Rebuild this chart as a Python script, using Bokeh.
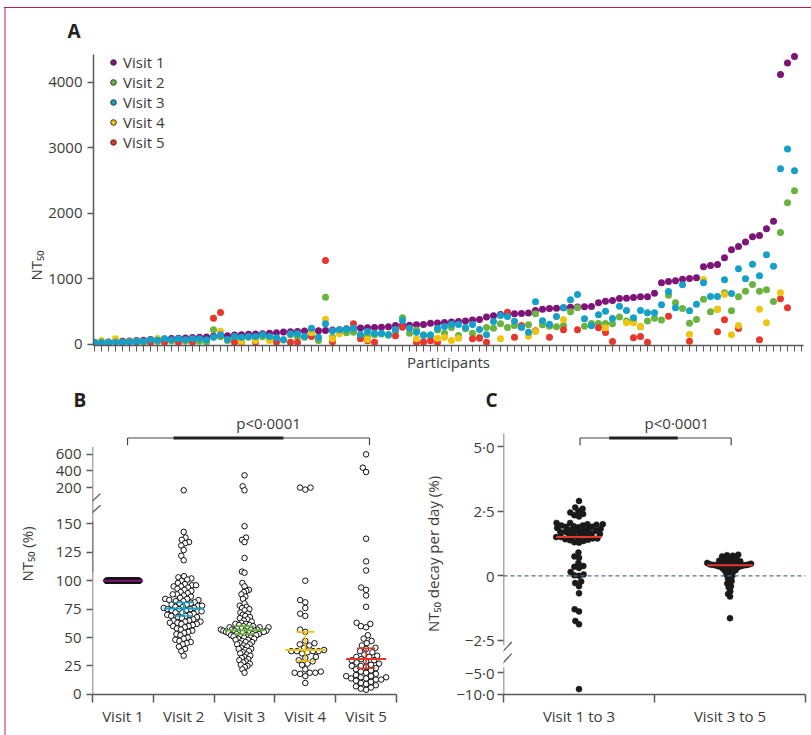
import numpy as np
from bokeh.plotting import figure
from bokeh.layouts import column, row
from bokeh.models import FixedTicker, Legend, LegendItem, Label, Range1d, Span, Arrow, Title
from bokeh.embed import file_html
from bokeh.resources import INLINE

FONT = "Open Sans"
TXT = "#3b3b3b"
AXC = "#5a5a5a"

VISIT_LABELS = ["Visit 1", "Visit 2", "Visit 3", "Visit 4", "Visit 5"]
VISIT_COLORS = ["#7f1478", "#6ab33f", "#14a0c8", "#efc50f", "#e8362c"]
B_COLORS = ["#7f1478", "#14a0c8", "#6ab33f", "#efc50f", "#e8362c"]

# ---------------- Panel A data (NT50 per participant, 101 participants) ----------------
N_PART = 101
A_VISIT1 = [30, 35, 40, 45, 50, 55, 60, 65, 75, 80,
            85, 90, 95, 100, 105, 110, 115, 125, 130, 135,
            145, 150, 155, 160, 165, 170, 180, 190, 195, 200,
            205, 210, 210, 215, 220, 225, 240, 245, 250, 255,
            260, 265, 270, 290, 295, 295, 300, 305, 325, 330,
            335, 345, 350, 360, 375, 380, 420, 440, 458, 468,
            470, 475, 480, 519, 539, 550, 555, 560, 570, 572,
            575, 580, 636, 662, 672, 702, 708, 718, 728, 730,
            784, 942, 962, 975, 997, 1008, 1018, 1186, 1206, 1222,
            1323, 1446, 1496, 1563, 1645, 1664, 1767, 1883, 4123, 4296,
            4398]
A_VISIT2 = [25, 30, 30, 40, 35, 45, 55, 40, 50, 45,
            60, 55, 70, 50, 45, 50, 40, 224, 120, 60,
            90, 100, 110, 100, 120, 110, 95, 70, 150, 120,
            112, 200, 61, 722, 112, 190, 180, 188, 130, 137,
            150, 160, 140, 200, 407, 173, 220, 150, 130, 220,
            173, 260, 137, 240, 173, 112, 260, 249, 316, 260,
            290, 265, 300, 468, 300, 280, 270, 290, 500, 560,
            280, 320, 320, 320, 315, 420, 360, 350, 270, 360,
            400, 375, 753, 637, 550, 326, 382, 692, 499, 540,
            789, 515, 728, 814, 916, 814, 835, 657, 1710, 2164,
            2347]
A_VISIT3 = [35, 35, 35, 35, 35, 35, 46, 50, 72, 66,
            87, 72, 87, 72, 87, 87, 72, 112, 148, 76,
            122, 112, 122, 122, 148, 122, 102, 72, 163, 163,
            127, 249, 112, 316, 209, 224, 234, 249, 153, 198,
            173, 173, 153, 229, 366, 249, 188, 137, 148, 249,
            275, 310, 305, 260, 305, 229, 148, 351, 443, 428,
            356, 265, 188, 652, 361, 310, 428, 560, 682, 764,
            392, 285, 453, 509, 397, 585, 519, 407, 519, 484,
            484, 606, 809, 560, 912, 515, 616, 942, 733, 733,
            987, 779, 1156, 1003, 1226, 1049, 1370, 1196, 2683, 2983,
            2652]
A_VISIT4 = [None, 61, None, 87, None, None, None, None, None, 90,
            None, None, None, None, None, None, None, None, 203, None,
            None, 45, None, 60, None, 60, None, None, None, None,
            None, 178, None, 386, 87, 163, None, None, None, 76,
            None, None, None, None, None, None, 87, None, None, 97,
            112, 61, 97, None, None, None, None, None, 87, None,
            None, None, 127, 198, None, None, None, 382, None, None,
            None, None, None, 255, None, None, 331, 331, 275, None,
            None, None, None, None, None, 157, None, 993, None, 539,
            764, 148, 290, None, None, 539, 331, None, 789, None,
            None]
A_VISIT5 = [None, None, 30, None, 30, None, 30, None, 30, None,
            35, None, 30, None, 40, None, None, 402, 489, None,
            35, 40, None, 35, None, None, 40, None, 35, 35,
            None, 122, None, 1283, 41, None, None, 316, 87, 56,
            35, None, None, 133, 265, None, 35, 40, 56, 35,
            None, None, None, None, 87, 97, 35, None, None, 494,
            112, 290, None, 209, None, 112, None, 224, None, 224,
            None, None, 255, 183, 46, None, None, 102, 122, 35,
            None, None, 432, None, None, 50, None, None, None, 194,
            377, None, 244, None, None, 72, None, None, 698, 560,
            None]
A_SERIES = [A_VISIT1, A_VISIT2, A_VISIT3, A_VISIT4, A_VISIT5]
A_YTICKS = [0, 1000, 2000, 3000, 4000]

# ---------------- Panel B data (NT50 as % of visit 1) ----------------
B_VISIT1 = [100] * 101
B_VISIT2 = [168, 143, 138, 136, 134, 133, 131, 127, 122, 118, 104, 103, 102, 101, 100, 98, 97, 96, 96, 95,
            95, 94, 93, 92, 91, 90, 89, 88, 88, 87, 86, 85, 84, 84, 83, 83, 82, 82, 81, 80,
            80, 79, 79, 78, 78, 77, 77, 76, 76, 75, 75, 75, 74, 74, 73, 73, 72, 72, 71, 70,
            70, 69, 69, 68, 68, 67, 66, 65, 65, 64, 64, 63, 63, 62, 62, 61, 60, 60, 59, 58,
            57, 56, 55, 54, 53, 52, 50, 49, 48, 47, 46, 45, 44, 42, 40, 38, 34]
B_VISIT3 = [348, 216, 168, 148, 138, 136, 134, 120, 108, 107, 98, 95, 92, 91, 90, 88, 86, 84, 80, 78,
            77, 76, 75, 74, 72, 71, 70, 69, 68, 67, 66, 65, 64, 63, 62, 62, 61, 61, 60, 60,
            59, 59, 59, 58, 58, 58, 57, 57, 57, 57, 56, 56, 56, 56, 56, 55, 55, 55, 55, 54,
            54, 54, 53, 53, 53, 52, 52, 52, 51, 51, 50, 50, 49, 49, 48, 48, 47, 46, 46, 45,
            44, 44, 43, 42, 41, 40, 40, 39, 38, 37, 36, 35, 34, 33, 32, 31, 30, 29, 28, 27,
            26, 25, 24, 22, 19]
B_VISIT4 = [200, 176, 200, 100, 83, 81, 76, 71, 69, 57, 55, 47, 45, 44, 43, 41, 39, 38, 38, 38,
            38, 37, 36, 33, 32, 30, 29, 27, 26, 22, 20, 19, 19, 19, 18, 16, 10]
B_VISIT5 = [600, 440, 387, 137, 117, 109, 94, 92, 87, 77, 63, 62, 60, 59, 52, 49, 47, 45, 43, 41,
            40, 38, 37, 35, 34, 33, 33, 31, 30, 30, 29, 28, 27, 26, 25, 25, 24, 23, 22, 21,
            20, 19, 18, 17, 16, 16, 15, 15, 14, 14, 13, 13, 12, 11, 10, 9, 8, 7, 6, 5, 4]
B_SERIES = [B_VISIT1, B_VISIT2, B_VISIT3, B_VISIT4, B_VISIT5]
B_MEDIAN = [100, 75.5, 56.5, 39, 31]
B_Q1 = [None, 69, 53, 29.4, 23]
B_Q3 = [None, 80.8, 60, 55, 40.6]
B_LOWER_TICKS = [0, 25, 50, 75, 100, 125, 150]
B_UPPER_TICKS = [200, 400, 600]

# ---------------- Panel C data (NT50 decay per day, %) ----------------
C_V1_TO_3 = [2.9, 2.65, 2.6, 2.5, 2.45, 2.4, 2.35, 2.3, 2.05, 2.05, 2.0, 2.0, 1.98, 1.95, 1.95, 1.92,
             1.9, 1.9, 1.88, 1.85, 1.82, 1.8, 1.78, 1.75, 1.75, 1.72, 1.7, 1.7, 1.68, 1.65, 1.62, 1.6,
             1.58, 1.55, 1.52, 1.5, 1.5, 1.48, 1.45, 1.45, 1.42, 1.4, 1.38, 1.35, 1.3, 1.28, 0.9, 0.75,
             0.7, 0.5, 0.38, 0.35, 0.3, 0.15, 0.05, 0.02, 0.0, -0.22, -0.28, -0.4, -0.68, -1.3, -1.38,
             -1.75, -1.88, -8.8]
C_V3_TO_5 = [0.82, 0.8, 0.78, 0.75, 0.72, 0.7, 0.68, 0.65, 0.62, 0.6, 0.58, 0.56, 0.55, 0.54, 0.52,
             0.5, 0.5, 0.48, 0.47, 0.46, 0.45, 0.45, 0.44, 0.43, 0.42, 0.42, 0.41, 0.4, 0.4, 0.39,
             0.38, 0.37, 0.36, 0.35, 0.34, 0.32, 0.3, 0.28, 0.25, 0.22, 0.2, 0.18, 0.15, 0.1, 0.05,
             0.0, -0.05, -0.1, -0.2, -0.25, -0.3, -0.4, -0.45, -0.6, -0.7, -0.8, -1.64]
C_SERIES = [C_V1_TO_3, C_V3_TO_5]
C_LABELS = ["Visit 1 to 3", "Visit 3 to 5"]
C_MEDIAN = [1.5, 0.41]
C_TICKS = [5.0, 2.5, 0.0, -2.5, -5.0, -10.0]
C_TICK_TEXT = ["5\u00b70", "2\u00b75", "0", "\u22122\u00b75", "\u22125\u00b70", "\u221210\u00b70"]

# ---------------- broken-axis transforms ----------------
B_UNIT = 1.136          # px per % on the lower part of panel B


def fB(v):
    v = np.asarray(v, dtype=float)
    upper = (206.7 + (v - 200.0) * 0.08325) / B_UNIT
    return np.where(v <= 160, v, upper)


C_UNIT = 25.8           # px per %/day on the upper part of panel C


def fC(v):
    v = np.asarray(v, dtype=float)
    lower = (-96.8 + (v + 5.0) * 4.34) / C_UNIT
    return np.where(v >= -3.0, v, lower)


def swarm(ypx, d):
    ypx = np.asarray(ypx, dtype=float)
    order = np.argsort(ypx, kind="stable")
    px, py = [], []
    out = np.zeros(len(ypx))
    for idx in order:
        y = ypx[idx]
        cands = [0.0]
        for qx, qy in zip(px, py):
            dy = abs(qy - y)
            if dy < d:
                dx = np.sqrt(d * d - dy * dy)
                cands += [qx + dx, qx - dx]
        cands.sort(key=lambda c: (abs(c), c))
        chosen = 0.0
        for c in cands:
            if all((c - qx) ** 2 + (y - qy) ** 2 >= d * d - 1e-6 for qx, qy in zip(px, py)):
                chosen = c
                break
        out[idx] = chosen
        px.append(chosen)
        py.append(y)
    return out


def capped_swarm(ypx, d, half):
    off = swarm(ypx, d)
    m = np.abs(off).max()
    if m > half:
        off = off * half / m
    return off


def base_fig(w, h, xr, yr, ml, mr, mt, mb):
    p = figure(width=w, height=h, x_range=xr, y_range=yr, output_backend="svg",
               toolbar_location=None, min_border_left=ml, min_border_right=mr,
               min_border_top=mt, min_border_bottom=mb)
    p.grid.visible = False
    p.outline_line_color = None
    p.background_fill_color = None
    p.border_fill_color = None
    return p


def style_axis(ax):
    ax.axis_line_color = AXC
    ax.axis_line_width = 1.5
    ax.major_tick_line_color = AXC
    ax.major_tick_line_width = 1.5
    ax.major_tick_in = 0
    ax.major_tick_out = 6
    ax.minor_tick_line_color = None
    ax.major_label_text_font = FONT
    ax.major_label_text_font_size = "15px"
    ax.major_label_text_color = TXT
    ax.axis_label_text_font = FONT
    ax.axis_label_text_font_size = "15px"
    ax.axis_label_text_font_style = "normal"
    ax.axis_label_text_color = TXT


def style_title(p, text, offset, standoff):
    p.title.text = text
    p.title.align = "left"
    p.title.offset = offset
    p.title.standoff = standoff
    p.title.text_font = FONT
    p.title.text_font_size = "19px"
    p.title.text_font_style = "bold"
    p.title.text_color = "#222222"


# ================= Panel A =================
A_PX = 0.0655   # px per NT50 unit
A_BOTTOM = -1 / A_PX
pA = base_fig(811, 375, Range1d(-1 / 7, 101.286), Range1d(A_BOTTOM, 4519), 93, 8, 48, 30)
xs = np.arange(N_PART)
for k in [0, 1, 4, 3, 2]:
    pA.scatter(xs, np.array(A_SERIES[k], dtype=float), size=7, fill_color=VISIT_COLORS[k],
               line_color=None)
items = []
for k in range(5):
    d = pA.scatter([np.nan], [np.nan], size=9.5, fill_color=VISIT_COLORS[k], line_color="#333333",
                   line_width=1)
    items.append(LegendItem(label=VISIT_LABELS[k], renderers=[d]))
leg = Legend(items=items, location=(13, 193), margin=0, padding=5, spacing=0, glyph_width=14,
             glyph_height=18, label_height=18, label_standoff=3, border_line_color=None,
             background_fill_alpha=0, label_text_font=FONT, label_text_font_size="15px",
             label_text_color=TXT)
pA.add_layout(leg)
style_axis(pA.xaxis[0])
style_axis(pA.yaxis[0])
pA.xaxis.ticker = FixedTicker(ticks=list(range(N_PART + 1)), minor_ticks=[])
pA.xaxis.major_label_overrides = {i: "" for i in range(N_PART + 1)}
pA.xaxis.major_label_standoff = 0
pA.xaxis.major_tick_line_width = 1
pA.xaxis.axis_label = "Participants"
pA.xaxis.axis_label_standoff = 0
pA.yaxis.ticker = FixedTicker(ticks=A_YTICKS, minor_ticks=[])
pA.yaxis.bounds = (A_BOTTOM, 4420)
pA.yaxis.major_label_standoff = 5
# y-axis title of panel A, which sits low on the axis
pA.add_layout(Title(text="NT\u2085\u2080", align="left", offset=65, standoff=0,
                    text_font=FONT, text_font_size="15px", text_font_style="normal",
                    text_color=TXT), "left")
style_title(pA, "A", -26, 10)

# ================= Panel B =================
pB = base_fig(420, 360, Range1d(0, 5), Range1d(-0.15, 247.2), 92, 24, 38, 41)
B_HALF = [16.5, 20, 24, 21, 20]
for k, vals in enumerate(B_SERIES):
    yv = fB(vals)
    off = capped_swarm(yv * B_UNIT, 5.6, B_HALF[k])
    pB.scatter(k + 0.5 + off / 60.8, yv, size=5.5, fill_color=None if k == 0 else "white",
               line_color="#111111", line_width=1)
for k in range(5):
    c = k + 0.5
    col = B_COLORS[k]
    pB.segment(x0=[c - 0.33], y0=[B_MEDIAN[k]], x1=[c + 0.33], y1=[B_MEDIAN[k]],
               line_color=col, line_width=2)
    if B_Q1[k] is not None:
        pB.segment(x0=[c, c - 0.15, c - 0.15], y0=[B_Q1[k], B_Q1[k], B_Q3[k]],
                   x1=[c, c + 0.15, c + 0.15], y1=[B_Q3[k], B_Q1[k], B_Q3[k]],
                   line_color=col, line_width=1.6)
style_axis(pB.xaxis[0])
style_axis(pB.yaxis[0])
pB.xaxis.ticker = FixedTicker(ticks=[0.5, 1.5, 2.5, 3.5, 4.5], minor_ticks=[0, 1, 2, 3, 4, 5])
pB.xaxis.major_label_overrides = {k + 0.5: VISIT_LABELS[k] for k in range(5)}
pB.xaxis.major_tick_line_color = None
pB.xaxis.major_tick_out = 8
pB.xaxis.minor_tick_line_color = AXC
pB.xaxis.minor_tick_line_width = 1.5
pB.xaxis.minor_tick_in = 0
pB.xaxis.minor_tick_out = 8
pB.xaxis.major_label_standoff = 3
b_up_pos = [round(float(fB(v)), 4) for v in B_UPPER_TICKS]
pB.yaxis.ticker = FixedTicker(ticks=B_LOWER_TICKS + b_up_pos, minor_ticks=[])
pB.yaxis.major_label_overrides = {p_: str(v) for p_, v in zip(b_up_pos, B_UPPER_TICKS)}
pB.yaxis.axis_line_color = None
pB.yaxis.major_label_standoff = 5
pB.yaxis.axis_label = "NT\u2085\u2080 (%)"
pB.yaxis.axis_label_standoff = 16
for (a, b) in [(0, 152.5), (108, 688)]:
    pB.add_layout(Arrow(end=None, x_start=0, y_start=float(fB(a)), x_end=0, y_end=float(fB(b)),
                        line_color=AXC, line_width=1.5))
for (x0, y0, x1, y1) in [(83.3, 508.3, 100, 493.3), (83.3, 520, 100, 505)]:
    pB.add_layout(Arrow(end=None, x_start=(x0 - 92) / 60.8, y_start=(694 - y0) / B_UNIT,
                        x_end=(x1 - 92) / 60.8, y_end=(694 - y1) / B_UNIT,
                        line_color=AXC, line_width=1.3))
bx0, bx1, by, byt = 0.576, 4.556, (694 - 437.7) / B_UNIT, (694 - 445) / B_UNIT
pB.segment(x0=[bx0, bx0, bx1], y0=[by, by, by], x1=[bx1, bx0, bx1], y1=[by, byt, byt],
           line_color="#444444", line_width=1.2)
pB.segment(x0=[1.332], y0=[by], x1=[3.141], y1=[by], line_color="#222222", line_width=3)
pB.add_layout(Label(x=2.895, y=(694 - 423) / B_UNIT, text="p<0\u00b70001", text_font=FONT,
                    text_font_size="15px", text_color=TXT, text_align="center",
                    text_baseline="middle"))
style_title(pB, "B", -19, 1)

# ================= Panel C =================
pC = base_fig(391, 360, Range1d(0, 2), Range1d(-4.6, 6.291), 80, 6, 38, 41)
pC.add_layout(Span(location=0, dimension="width", line_color="#4f7382", line_width=1.2,
                   line_dash="4 3"))
C_HALF = [24, 23]
for k, vals in enumerate(C_SERIES):
    yv = fC(vals)
    off = capped_swarm(yv * C_UNIT, 5.2, C_HALF[k])
    pC.scatter(k + 0.5 + off / 152.5, yv, size=6, fill_color="#1a1a1a", line_color="#1a1a1a",
               line_width=0.5)
for k in range(2):
    c = k + 0.5
    pC.segment(x0=[c - 0.151], y0=[C_MEDIAN[k]], x1=[c + 0.151], y1=[C_MEDIAN[k]],
               line_color="#e8362c", line_width=2)
style_axis(pC.xaxis[0])
style_axis(pC.yaxis[0])
pC.xaxis.ticker = FixedTicker(ticks=[0.5, 1.5], minor_ticks=[0, 1, 2])
pC.xaxis.major_label_overrides = {0.5: C_LABELS[0], 1.5: C_LABELS[1]}
pC.xaxis.major_tick_line_color = None
pC.xaxis.major_tick_out = 8
pC.xaxis.minor_tick_line_color = AXC
pC.xaxis.minor_tick_line_width = 1.5
pC.xaxis.minor_tick_in = 0
pC.xaxis.minor_tick_out = 8
pC.xaxis.major_label_standoff = 3
c_pos = [round(float(fC(v)), 4) for v in C_TICKS]
pC.yaxis.ticker = FixedTicker(ticks=c_pos, minor_ticks=[])
pC.yaxis.major_label_overrides = {p_: t for p_, t in zip(c_pos, C_TICK_TEXT)}
pC.yaxis.axis_line_color = None
pC.yaxis.major_label_standoff = 3
pC.yaxis.axis_label = "NT\u2085\u2080 decay per day (%)"
pC.yaxis.axis_label_standoff = 10
for (a, b) in [(-10, -3.78), (-2.69, 5.52)]:
    pC.add_layout(Arrow(end=None, x_start=0, y_start=float(fC(a)), x_end=0, y_end=float(fC(b)),
                        line_color=AXC, line_width=1.5))
for (x0, y0, x1, y1) in [(492.7, 658.3, 508.3, 641.7), (492.7, 670, 508.3, 653.3)]:
    pC.add_layout(Arrow(end=None, x_start=(x0 - 500) / 152.5, y_start=(575.5 - y0) / C_UNIT,
                        x_end=(x1 - 500) / 152.5, y_end=(575.5 - y1) / C_UNIT,
                        line_color=AXC, line_width=1.3))
cx0, cx1, cy, cyt = 0.507, 1.508, (575.5 - 437.7) / C_UNIT, (575.5 - 445) / C_UNIT
pC.segment(x0=[cx0, cx0, cx1], y0=[cy, cy, cy], x1=[cx1, cx0, cx1], y1=[cy, cyt, cyt],
           line_color="#444444", line_width=1.2)
pC.segment(x0=[0.70], y0=[cy], x1=[1.154], y1=[cy], line_color="#222222", line_width=3)
pC.add_layout(Label(x=1.148, y=(575.5 - 423) / C_UNIT, text="p<0\u00b70001", text_font=FONT,
                    text_font_size="15px", text_color=TXT, text_align="center",
                    text_baseline="middle"))
style_title(pC, "C", -18, 1)

page = column(pA, row(pB, pC), styles={
    "background": "linear-gradient(#b3204d, #b3204d) 4px 7px / 100% 1px no-repeat, "
                  "linear-gradient(#e58ea9, #e58ea9) 4px 7px / 2px 100% no-repeat"})

open("out.html", "w").write(file_html(page, INLINE))
